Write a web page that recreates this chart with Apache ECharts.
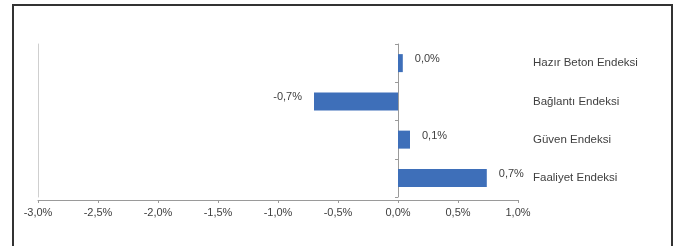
<!DOCTYPE html>
<html>
<head>
<meta charset="utf-8">
<script src="https://cdn.jsdelivr.net/npm/echarts@6/dist/echarts.min.js"></script>
<style>
  html, body { margin: 0; padding: 0; background: #fff; }
  #chart { width: 680px; height: 246px; }
</style>
</head>
<body>
<div id="chart"></div>
<script>
// categorias de abajo hacia arriba (eje de categorías de ECharts)
const categories = ["Faaliyet Endeksi", "Güven Endeksi", "Bağlantı Endeksi", "Hazır Beton Endeksi"];
const values = [0.74, 0.1, -0.7, 0.04];

const xMin = -3.0;
const xMax = 1.0;
const xStep = 0.5;

const FONT = "'Liberation Sans', Arial, sans-serif";
const TXT = "#404040";
const AXIS = "#9a9a9a";

function fmtPct(v){
  return v.toFixed(1).replace(".", ",") + "%";
}

const chart = echarts.init(document.getElementById("chart"));

const option = {
  animation: false,
  backgroundColor: "#fff",
  textStyle: { fontFamily: FONT },
  grid: { left: 38, right: 162, top: 44, bottom: 49, containLabel: false },
  xAxis: {
    type: "value",
    min: xMin,
    max: xMax,
    interval: xStep,
    offset: 3,
    axisLine: { show: true, onZero: false, lineStyle: { color: AXIS, width: 1 } },
    axisTick: { show: true, length: 3, lineStyle: { color: AXIS } },
    splitLine: { show: false },
    axisLabel: { formatter: fmtPct, color: TXT, fontSize: 11, fontFamily: FONT, margin: 7 }
  },
  yAxis: [
    {
      // línea del cero
      type: "category",
      data: categories,
      position: "left",
      axisLine: { show: true, onZero: true, lineStyle: { color: AXIS, width: 1 } },
      axisTick: { show: true, length: 3, lineStyle: { color: AXIS } },
      axisLabel: { show: false }
    },
    {
      // etiquetas a la derecha
      type: "category",
      data: categories,
      position: "right",
      axisLine: { show: false, onZero: false },
      axisTick: { show: false },
      axisLabel: { show: true, color: TXT, fontSize: 11.5, fontFamily: FONT, margin: 15, align: "left" }
    },
    {
      // borde izquierdo del área
      type: "category",
      data: categories,
      position: "left",
      axisLine: { show: true, onZero: false, lineStyle: { color: "#cfcfcf", width: 1 } },
      axisTick: { show: false },
      axisLabel: { show: false }
    }
  ],
  series: [
    {
      type: "bar",
      yAxisIndex: 0,
      barWidth: 18,
      itemStyle: { color: "#3e6fb9" },
      data: values.map(v => ({
        value: v,
        label: { position: v < 0 ? "left" : "right", offset: [0, -4] }
      })),
      label: {
        show: true,
        distance: 12,
        color: TXT,
        fontSize: 11,
        fontFamily: FONT,
        formatter: p => fmtPct(p.value)
      }
    }
  ],
  graphic: [
    {
      type: "rect",
      shape: { x: 13, y: 5, width: 659, height: 250 },
      style: { fill: "none", stroke: "#333", lineWidth: 2 },
      silent: true
    }
  ]
};

chart.setOption(option);
</script>
</body>
</html>
